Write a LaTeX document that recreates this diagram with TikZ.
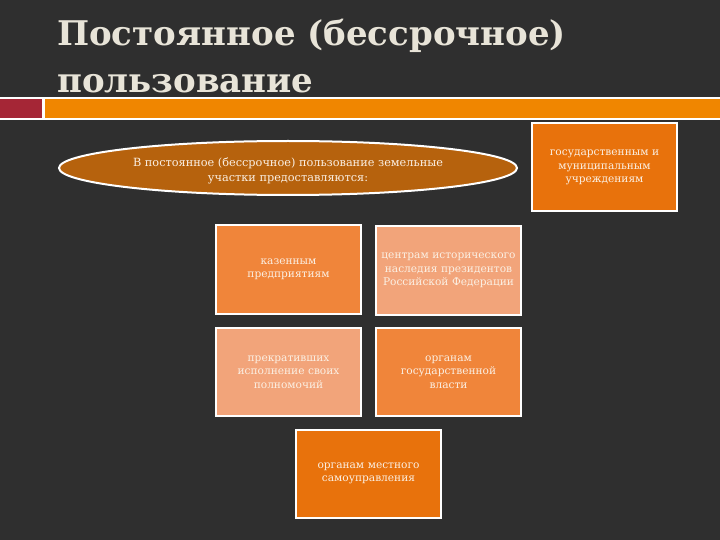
\documentclass[tikz,border=0pt]{standalone}
\usepackage{fontspec}
\setmainfont{DejaVu Serif}
\usetikzlibrary{shapes.geometric}
\definecolor{bg}{HTML}{2F2F2F}
\definecolor{titlec}{HTML}{E8E4D8}
\definecolor{barred}{HTML}{A52636}
\definecolor{barorange}{HTML}{F08600}
\definecolor{ellfill}{HTML}{B6620D}
\definecolor{darkorg}{HTML}{E8720C}
\definecolor{midorg}{HTML}{F0853A}
\definecolor{lightorg}{HTML}{F2A47A}
\definecolor{txtc}{HTML}{FBF0E4}
\tikzset{
  box/.style={draw=white, line width=2pt, minimum width=145pt, minimum height=88pt,
    text width=140pt, align=center, text=txtc, font=\fontsize{10.6}{13.5}\selectfont, inner sep=0pt},
  titletext/.style={anchor=base west, text=titlec, font=\fontsize{34}{34}\selectfont\bfseries, inner sep=0pt}
}
\begin{document}
\begin{tikzpicture}[x=1pt,y=-1pt]
\useasboundingbox[fill=bg] (0,0) rectangle (720,540);
% title
\node[titletext] (t1) at (57,46) {Постоянное (бессрочное)};
\node[titletext] (t2) at (57,93) {пользование};
% bar
\fill[white] (0,97) rectangle (720,120.5);
\fill[barred] (0,99.5) rectangle (42,118);
\fill[barorange] (45,99.5) rectangle (720,118);
% ellipse
\node[ellipse, draw=white, line width=2pt, fill=ellfill, minimum width=458pt, minimum height=54pt,
  inner sep=0pt] (e) at (288,168) {};
\node[align=center, text=txtc, font=\fontsize{11.3}{15}\selectfont, inner sep=0pt] (et)
  at ([yshift=-3pt]e.center) {В постоянное (бессрочное) пользование земельные\\участки предоставляются:};
% boxes
\node[box, fill=darkorg] (tr) at (604.5,167.5) {государственным и\\муниципальным\\учреждениям};
\node[box, fill=midorg] (b1) at (288.5,269.5) {казенным\\предприятиям};
\node[box, fill=lightorg] (b2) at (448.5,270.5) {центрам исторического\\наследия президентов\\Российской Федерации};
\node[box, fill=lightorg] (b3) at (288.5,372) {прекративших\\исполнение своих\\полномочий};
\node[box, fill=midorg] (b4) at (448.5,372) {органам\\государственной\\власти};
\node[box, fill=darkorg] (b5) at (368.5,473.5) {органам местного\\самоуправления};
\end{tikzpicture}
\end{document}
